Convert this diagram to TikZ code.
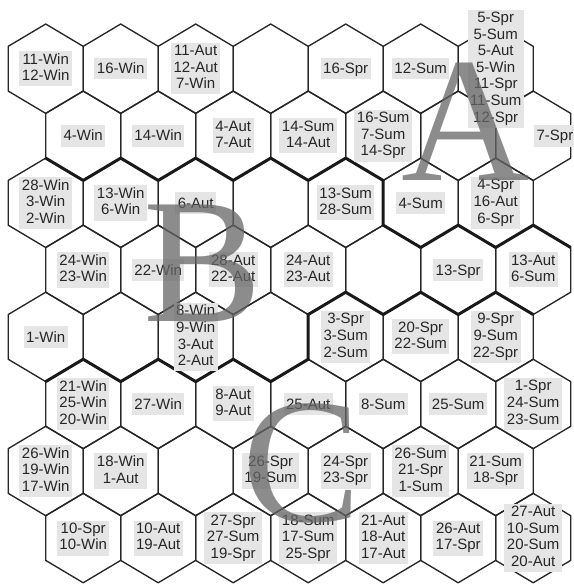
\documentclass[tikz,border=0pt]{standalone}
\usepackage{fontspec}
\setsansfont{Liberation Sans}
\newfontfamily\letterfont{Liberation Serif}
\usepackage{tikz}

\begin{document}
\begin{tikzpicture}[
    % one x unit = half a cell width, one y unit = a quarter of a cell height
    x=37.5pt, y=-22.35pt,
    hexline/.style={draw=black!85, line width=1.35pt, line join=round},
    border/.style={draw=black!90, line width=3pt, line join=round},
    lbl/.style={
        fill=gray!20, inner xsep=2.5pt, inner ysep=2.4pt,
        align=center, text=black!85,
        font=\sffamily\fontsize{15}{16.6}\selectfont,
        execute at begin node={\rule{0pt}{13.6pt}},
        execute at end node={\rule[-3.2pt]{0pt}{3.2pt}}
    },
    cluster/.style={
        anchor=base, inner sep=0pt, text=black!60, text opacity=0.75,
        font=\letterfont\fontsize{178}{178}\selectfont
    }
]
  \useasboundingbox (-8.2pt,24pt) rectangle (564.8pt,-562pt);

  % Hexagonal grid: 8 rows of 7 cells, odd rows shifted right
  \foreach \r in {0,...,7}
    \foreach \c in {0,...,6}{
      \pgfmathtruncatemacro\ci{1+2*\c+mod(\r,2)}
      \pgfmathtruncatemacro\cj{3*\r}
      \draw[hexline] (\ci,\cj) -- ++(1,1) -- ++(0,2) -- ++(-1,1)
        -- ++(-1,-1) -- ++(0,-2) -- cycle;
    }

  % Cluster borders
  \draw[border] (1,6) -- (2,7) -- (3,6) -- (4,7) -- (5,6) -- (6,7) -- (7,6)
    -- (8,7) -- (9,6) -- (10,7) -- (10,9) -- (11,10) -- (12,9) -- (13,10)
    -- (14,9) -- (15,10);
  \draw[border] (1,16) -- (2,15) -- (3,16) -- (4,15) -- (5,16) -- (6,15)
    -- (7,16) -- (8,15) -- (8,13) -- (9,12) -- (10,13) -- (11,12) -- (12,13)
    -- (13,12) -- (14,13);

  % Cell contents (row/column/text)
  \foreach \r/\c/\txt in {
      0/0/{11-Win\\12-Win}, 0/1/{16-Win}, 0/2/{11-Aut\\12-Aut\\7-Win},
      0/4/{16-Spr}, 0/5/{12-Sum},
      0/6/{5-Spr\\5-Sum\\5-Aut\\5-Win\\11-Spr\\11-Sum\\12-Spr},
      1/0/{4-Win}, 1/1/{14-Win}, 1/2/{4-Aut\\7-Aut}, 1/3/{14-Sum\\14-Aut},
      1/4/{16-Sum\\7-Sum\\14-Spr},
      2/0/{28-Win\\3-Win\\2-Win}, 2/1/{13-Win\\6-Win}, 2/2/{6-Aut},
      2/4/{13-Sum\\28-Sum}, 2/5/{4-Sum}, 2/6/{4-Spr\\16-Aut\\6-Spr},
      3/0/{24-Win\\23-Win}, 3/1/{22-Win}, 3/2/{28-Aut\\22-Aut},
      3/3/{24-Aut\\23-Aut}, 3/5/{13-Spr}, 3/6/{13-Aut\\6-Sum},
      4/0/{1-Win}, 4/2/{8-Win\\9-Win\\3-Aut\\2-Aut}, 4/4/{3-Spr\\3-Sum\\2-Sum},
      4/5/{20-Spr\\22-Sum}, 4/6/{9-Spr\\9-Sum\\22-Spr},
      5/0/{21-Win\\25-Win\\20-Win}, 5/1/{27-Win}, 5/2/{8-Aut\\9-Aut},
      5/3/{25-Aut}, 5/4/{8-Sum}, 5/5/{25-Sum}, 5/6/{1-Spr\\24-Sum\\23-Sum},
      6/0/{26-Win\\19-Win\\17-Win}, 6/1/{18-Win\\1-Aut}, 6/3/{26-Spr\\19-Sum},
      6/4/{24-Spr\\23-Spr}, 6/5/{26-Sum\\21-Spr\\1-Sum}, 6/6/{21-Sum\\18-Spr},
      7/0/{10-Spr\\10-Win}, 7/1/{10-Aut\\19-Aut}, 7/2/{27-Spr\\27-Sum\\19-Spr},
      7/3/{18-Sum\\17-Sum\\25-Spr}, 7/4/{21-Aut\\18-Aut\\17-Aut},
      7/5/{26-Aut\\17-Spr}, 7/6/{27-Aut\\10-Sum\\20-Sum\\20-Aut}}{
    \pgfmathtruncatemacro\ci{1+2*\c+mod(\r,2)}
    \node[lbl] (cell-\r-\c) at (\ci,3*\r+2) {\txt};
  }
  \node[lbl] (cell-1-6) at (14.58,5) {7-Spr};

  % Cluster letters
  \node[cluster] (clA) at (12.21,6.98) {A};
  \node[cluster] (clB) at (5.19,13.33) {B};
  \node[cluster] (clC) at (7.83,22.26) {C};
\end{tikzpicture}
\end{document}
